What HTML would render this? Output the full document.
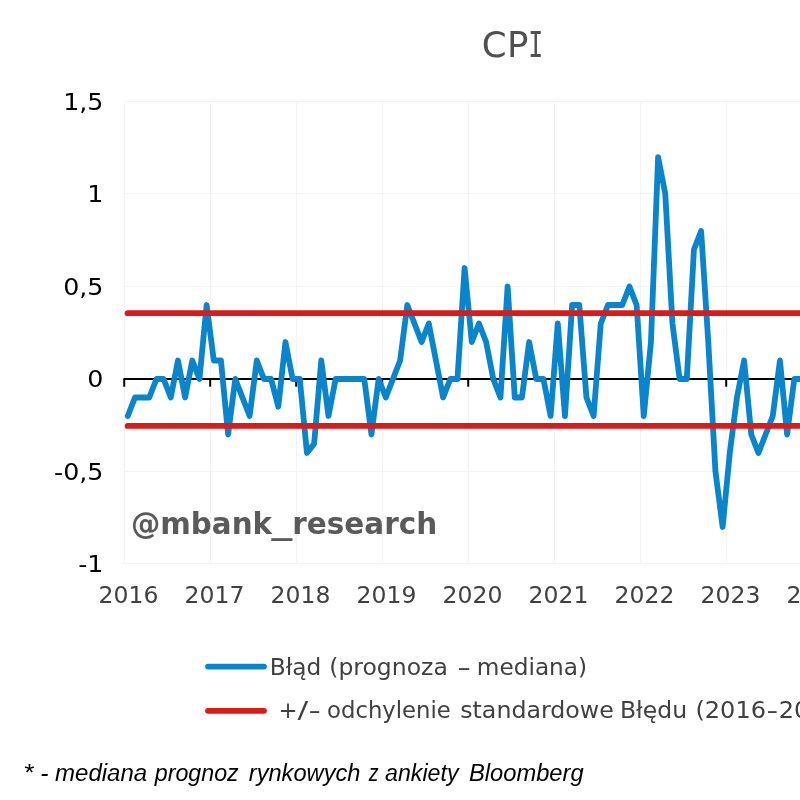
<!DOCTYPE html>
<html lang="pl">
<head>
<meta charset="utf-8">
<title>CPI</title>
<style>
html,body{margin:0;padding:0;background:#fff;}
body{width:800px;height:800px;overflow:hidden;}
svg{display:block;font-family:"DejaVu Sans","Liberation Sans",sans-serif;}
.grid line{stroke:#f4f4f4;stroke-width:1;}
.ticks line{stroke:#000;stroke-width:2;}
.ylab text{font-size:23.5px;fill:#000;}
.xlab text{font-size:23.5px;fill:#404040;}
.leg text{font-size:23.5px;fill:#404040;}
.foot{font-family:"Liberation Sans",sans-serif;font-style:italic;font-size:23.5px;fill:#000;}
</style>
</head>
<body>
<svg width="800" height="800" viewBox="0 0 800 800">
<rect width="800" height="800" fill="#ffffff"/>
<text y="56.6" font-size="35.6" fill="#505050"><tspan x="481.8">C</tspan><tspan x="507">P</tspan><tspan x="528.2" font-family="DejaVu Sans Mono,monospace" textLength="15" lengthAdjust="spacingAndGlyphs">I</tspan></text>
<g class="grid">
<line x1="124.50" y1="101.50" x2="124.50" y2="563.50"/>
<line x1="210.50" y1="101.50" x2="210.50" y2="563.50"/>
<line x1="296.50" y1="101.50" x2="296.50" y2="563.50"/>
<line x1="382.50" y1="101.50" x2="382.50" y2="563.50"/>
<line x1="468.50" y1="101.50" x2="468.50" y2="563.50"/>
<line x1="554.50" y1="101.50" x2="554.50" y2="563.50"/>
<line x1="640.50" y1="101.50" x2="640.50" y2="563.50"/>
<line x1="726.50" y1="101.50" x2="726.50" y2="563.50"/>
<line x1="812.50" y1="101.50" x2="812.50" y2="563.50"/>
<line x1="898.50" y1="101.50" x2="898.50" y2="563.50"/>
<line x1="124.20" y1="101.50" x2="900" y2="101.50"/>
<line x1="124.20" y1="193.50" x2="900" y2="193.50"/>
<line x1="124.20" y1="286.50" x2="900" y2="286.50"/>
<line x1="124.20" y1="471.50" x2="900" y2="471.50"/>
<line x1="124.20" y1="563.50" x2="900" y2="563.50"/>
</g>
<line x1="124.20" y1="379.00" x2="900" y2="379.00" stroke="#000" stroke-width="2" stroke-linecap="round"/>
<g class="ticks">
<line x1="124.20" y1="379.00" x2="124.20" y2="386.70"/>
<line x1="210.20" y1="379.00" x2="210.20" y2="386.70"/>
<line x1="296.20" y1="379.00" x2="296.20" y2="386.70"/>
<line x1="382.20" y1="379.00" x2="382.20" y2="386.70"/>
<line x1="468.20" y1="379.00" x2="468.20" y2="386.70"/>
<line x1="554.20" y1="379.00" x2="554.20" y2="386.70"/>
<line x1="640.20" y1="379.00" x2="640.20" y2="386.70"/>
<line x1="726.20" y1="379.00" x2="726.20" y2="386.70"/>
<line x1="812.20" y1="379.00" x2="812.20" y2="386.70"/>
<line x1="898.20" y1="379.00" x2="898.20" y2="386.70"/>
</g>
<text y="534.3" font-size="29.33" font-weight="bold" fill="#5a5a5a"><tspan x="131" textLength="141" lengthAdjust="spacingAndGlyphs">@mbank</tspan><tspan x="271.3" textLength="21.2" lengthAdjust="spacingAndGlyphs">_</tspan><tspan x="292.2" textLength="145" lengthAdjust="spacingAndGlyphs">research</tspan></text>
<polyline points="127.78,415.99 134.95,397.50 142.12,397.50 149.28,397.50 156.45,379.00 163.62,379.00 170.78,397.50 177.95,360.50 185.12,397.50 192.28,360.50 199.45,379.00 206.62,305.02 213.78,360.50 220.95,360.50 228.12,434.49 235.28,379.00 242.45,397.50 249.62,415.99 256.78,360.50 263.95,379.00 271.12,379.00 278.28,406.74 285.45,342.01 292.62,379.00 299.78,379.00 306.95,452.98 314.12,443.74 321.28,360.50 328.45,415.99 335.62,379.00 342.78,379.00 349.95,379.00 357.12,379.00 364.28,379.00 371.45,434.49 378.62,379.00 385.78,397.50 392.95,379.00 400.12,360.50 407.28,305.02 414.45,323.51 421.62,342.01 428.78,323.51 435.95,360.50 443.12,397.50 450.28,379.00 457.45,379.00 464.62,268.02 471.78,342.01 478.95,323.51 486.12,342.01 493.28,379.00 500.45,397.50 507.62,286.52 514.78,397.50 521.95,397.50 529.12,342.01 536.28,379.00 543.45,379.00 550.62,415.99 557.78,323.51 564.95,415.99 572.12,305.02 579.28,305.02 586.45,397.50 593.62,415.99 600.78,323.51 607.95,305.02 615.12,305.02 622.28,305.02 629.45,286.52 636.62,305.02 643.78,415.99 650.95,342.01 658.12,157.05 665.28,194.04 672.45,323.51 679.62,379.00 686.78,379.00 693.95,249.53 701.12,231.03 708.28,342.01 715.45,471.48 722.62,526.97 729.78,452.98 736.95,397.50 744.12,360.50 751.28,434.49 758.45,452.98 765.62,434.49 772.78,415.99 779.95,360.50 787.12,434.49 794.28,379.00 801.45,379.00 808.62,379.00" fill="none" stroke="#0a85cc" stroke-width="5.8" stroke-linejoin="round" stroke-linecap="round"/>
<line x1="127.6" y1="313.20" x2="900" y2="313.20" stroke="#db1a1a" stroke-width="5.8" stroke-linecap="round"/>
<line x1="127.6" y1="425.90" x2="900" y2="425.90" stroke="#db1a1a" stroke-width="5.8" stroke-linecap="round"/>
<g class="ylab">
<text transform="translate(103.5,109.70) scale(1.08,1)" text-anchor="end">1,5</text>
<text transform="translate(103.5,201.70) scale(1.08,1)" text-anchor="end">1</text>
<text transform="translate(103.5,294.70) scale(1.08,1)" text-anchor="end">0,5</text>
<text transform="translate(103.5,387.20) scale(1.08,1)" text-anchor="end">0</text>
<text transform="translate(103.5,479.70) scale(1.08,1)" text-anchor="end">-0,5</text>
<text transform="translate(103.5,571.70) scale(1.08,1)" text-anchor="end">-1</text>
</g>
<g class="xlab">
<text x="128.48" y="603.2" text-anchor="middle">2016</text>
<text x="214.48" y="603.2" text-anchor="middle">2017</text>
<text x="300.48" y="603.2" text-anchor="middle">2018</text>
<text x="386.48" y="603.2" text-anchor="middle">2019</text>
<text x="472.48" y="603.2" text-anchor="middle">2020</text>
<text x="558.48" y="603.2" text-anchor="middle">2021</text>
<text x="644.48" y="603.2" text-anchor="middle">2022</text>
<text x="730.48" y="603.2" text-anchor="middle">2023</text>
<text x="816.48" y="603.2" text-anchor="middle">2024</text>
</g>
<g class="leg">
<line x1="208" y1="666.6" x2="264" y2="666.6" stroke="#0a85cc" stroke-width="5.8" stroke-linecap="round"/>
<line x1="208" y1="710.8" x2="264" y2="710.8" stroke="#db1a1a" stroke-width="5.8" stroke-linecap="round"/>
<text y="675.3"><tspan x="269.77" textLength="51.58" lengthAdjust="spacingAndGlyphs">Błąd</tspan> <tspan x="329.25" textLength="118.55" lengthAdjust="spacingAndGlyphs">(prognoza</tspan> <tspan x="457.08" textLength="14.14" lengthAdjust="spacingAndGlyphs">-</tspan> <tspan x="476.77" textLength="110.38" lengthAdjust="spacingAndGlyphs">mediana)</tspan></text>
<text y="718.4"><tspan x="278.57" textLength="19.05" lengthAdjust="spacingAndGlyphs">+</tspan><tspan x="297.5" textLength="10.7" lengthAdjust="spacingAndGlyphs">/</tspan><tspan x="308.54" textLength="12.37" lengthAdjust="spacingAndGlyphs">-</tspan> <tspan x="327.03" textLength="123.83" lengthAdjust="spacingAndGlyphs">odchylenie</tspan> <tspan x="460.24" textLength="153.57" lengthAdjust="spacingAndGlyphs">standardowe</tspan> <tspan x="620.0" textLength="67.08" lengthAdjust="spacingAndGlyphs">Błędu</tspan> <tspan x="695.45" textLength="70.55" lengthAdjust="spacingAndGlyphs">(2016</tspan><tspan x="766.62" textLength="11.67" lengthAdjust="spacingAndGlyphs">-</tspan><tspan x="778.8" textLength="70.5" lengthAdjust="spacingAndGlyphs">2019)</tspan></text>
</g>
<text class="foot" y="780.6"><tspan x="23.39" textLength="10.17" lengthAdjust="spacingAndGlyphs">*</tspan> <tspan x="40.21" textLength="8.15" lengthAdjust="spacingAndGlyphs">-</tspan> <tspan x="55.0" textLength="92.18" lengthAdjust="spacingAndGlyphs">mediana</tspan> <tspan x="154.74" textLength="83.95" lengthAdjust="spacingAndGlyphs">prognoz</tspan> <tspan x="248.75" textLength="111.77" lengthAdjust="spacingAndGlyphs">rynkowych</tspan> <tspan x="368.75" textLength="9.79" lengthAdjust="spacingAndGlyphs">z</tspan> <tspan x="385.0" textLength="73.49" lengthAdjust="spacingAndGlyphs">ankiety</tspan> <tspan x="468.99" textLength="114.67" lengthAdjust="spacingAndGlyphs">Bloomberg</tspan></text>
</svg>
</body>
</html>
